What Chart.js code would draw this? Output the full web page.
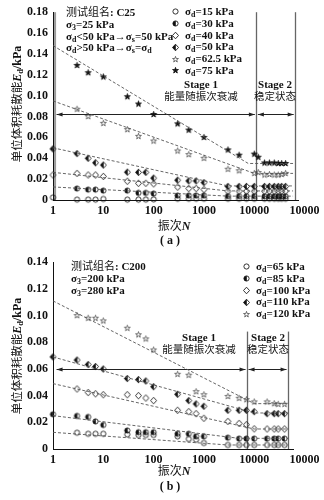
<!DOCTYPE html>
<html>
<head>
<meta charset="utf-8">
<script src="https://cdn.jsdelivr.net/npm/chart.js@4.4.0/dist/chart.umd.min.js"></script>
<style>
body{margin:0;background:#fff;}
#wrap{position:relative;width:324px;height:500px;overflow:hidden;font-family:'Liberation Serif','Noto Sans CJK SC',serif;color:#111;}
#wrap canvas.ch{position:absolute;left:0;}
.t{position:absolute;white-space:nowrap;font-size:11px;font-weight:bold;line-height:11.8px;}
.c{font-family:'Noto Sans CJK SC';font-weight:normal;}
.t sub{font-size:8px;vertical-align:-2px;line-height:0;}
.leg div{height:11.8px;display:flex;align-items:center;}
.leg canvas{margin-right:5px;}
.ytitle{position:absolute;white-space:nowrap;font-size:12px;font-weight:bold;transform:translate(-50%,-50%) rotate(-90deg);}
.ytitle .c{font-size:11.5px;}
.ytitle sub{font-size:8.5px;vertical-align:-2px;line-height:0;}
.mid{transform:translate(-50%,-50%);}
</style>
</head>
<body>
<div id="wrap">
  <canvas id="chartA" class="ch" width="324" height="250" style="top:0"></canvas>
  <canvas id="chartB" class="ch" width="324" height="250" style="top:250px"></canvas>

  <div class="ytitle" style="left:16px;top:104px"><span class="c">单位体积耗散能</span><i>E</i><sub>d</sub>/kPa</div>
  <div class="ytitle" style="left:16px;top:356px"><span class="c">单位体积耗散能</span><i>E</i><sub>d</sub>/kPa</div>

  <div class="t" style="left:66px;top:6px">
    <div><span class="c">测试组名</span>: C25</div>
    <div>σ<sub>3</sub>=25 kPa</div>
    <div>σ<sub>d</sub>&lt;50 kPa→σ<sub>s</sub>=50 kPa</div>
    <div>σ<sub>d</sub>&gt;50 kPa→σ<sub>s</sub>=σ<sub>d</sub></div>
  </div>
  <div class="t" style="left:71px;top:259px;line-height:12px">
    <div><span class="c">测试组名</span>: C200</div>
    <div>σ<sub>3</sub>=200 kPa</div>
    <div>σ<sub>3</sub>=280 kPa</div>
  </div>

  <div class="t leg" id="legA" style="left:171px;top:6px"></div>
  <div class="t leg" id="legB" style="left:242px;top:261px"></div>

  <div class="t mid" style="left:201px;top:90px;text-align:center;line-height:12px">Stage 1<br><span class="c" style="font-size:10.5px">能量随振次衰减</span></div>
  <div class="t mid" style="left:275px;top:90px;text-align:center;line-height:12px">Stage 2<br><span class="c" style="font-size:10.5px">稳定状态</span></div>
  <div class="t mid" style="left:199px;top:343px;text-align:center;line-height:12px">Stage 1<br><span class="c" style="font-size:10.5px">能量随振次衰减</span></div>
  <div class="t mid" style="left:268px;top:343px;text-align:center;line-height:12px">Stage 2<br><span class="c" style="font-size:10.5px">稳定状态</span></div>

  <div class="t mid" style="left:174px;top:226px;font-size:12px"><span class="c">振次</span><i>N</i></div>
  <div class="t mid" style="left:174px;top:471px;font-size:12px"><span class="c">振次</span><i>N</i></div>
  <div class="t mid" style="left:170px;top:241px;font-size:12px">( a )</div>
  <div class="t mid" style="left:170px;top:487px;font-size:12px">( b )</div>
</div>

<script>
// ---- data (a) C25 ----
const nA = [1, 3, 5, 7, 10, 30, 50, 70, 100, 300, 500, 700, 1000, 3000, 5000, 7000, 10000, 12000, 16000, 20000, 25000, 30000, 35000, 42000];
const eA15 = [0.0025, 0.0004, 0.0004, 0.0004, 0.001, 0.0004, 0.0004, 0.0004, 0.0006, 0.0012, 0.0012, 0.0012, 0.0012, 0.0012, 0.0012, 0.0012, 0.0012, null, 0.0012, 0.0012, 0.0012, 0.0012, 0.0012, 0.0012];
const eA30 = [null, 0.011, 0.010, 0.010, 0.009, 0.009, 0.0068, 0.0068, 0.0062, 0.0043, 0.0043, 0.0043, 0.0043, 0.0037, 0.0037, 0.0037, 0.0037, null, 0.0035, 0.0035, 0.0035, 0.0035, 0.0035, 0.0035];
const eA40 = [0.024, 0.0255, 0.024, 0.024, 0.0226, 0.018, 0.016, 0.016, 0.0155, 0.0124, 0.011, 0.011, 0.010, 0.0084, 0.0084, 0.0084, 0.0084, null, 0.0085, 0.0085, 0.0085, 0.0085, 0.0085, 0.0085];
const eA50 = [0.049, 0.0445, 0.040, 0.0357, 0.0335, 0.0267, 0.0265, 0.0265, 0.021, 0.019, 0.0183, 0.0183, 0.0167, 0.013, 0.013, 0.013, 0.013, null, 0.013, 0.013, 0.013, 0.013, 0.013, 0.013];
const eA62 = [null, 0.087, 0.080, null, 0.0735, 0.0675, 0.061, null, 0.0565, 0.047, 0.0435, null, 0.040, 0.0295, 0.028, null, 0.0255, 0.0263, 0.024, 0.0245, 0.024, 0.024, 0.0245, 0.0255];
const eA75 = [null, 0.129, 0.122, null, 0.118, 0.099, 0.092, null, 0.082, 0.073, 0.067, null, 0.060, 0.048, 0.043, null, 0.044, 0.041, 0.0355, 0.0355, 0.0355, 0.035, 0.035, 0.035];
const legendA = ['15', '30', '40', '50', '62.5', '75'];
// dashed fits: [N, E]
const fitA30 = [[1, 0.0125], [3000, 0.0037], [59000, 0.0037]];
const fitA40 = [[1, 0.0265], [3000, 0.0087], [59000, 0.0087]];
const fitA50 = [[1, 0.050], [3000, 0.0135], [59000, 0.0135]];
const fitA62 = [[1, 0.095], [10000, 0.0255], [59000, 0.0255]];
const fitA75 = [[1, 0.148], [7600, 0.035], [59000, 0.035]];
const yTicksA = ['0', '0.02', '0.04', '0.06', '0.08', '0.10', '0.12', '0.14', '0.16', '0.18'];

// ---- data (b) C200 ----
const nB = [1, 3, 5, 7, 10, 30, 50, 70, 100, 300, 500, 700, 1000, 3000, 5000, 7000, 10000, 18000, 25000, 30000, 40000];
const eB65 = [null, 0.0122, 0.0114, 0.0114, 0.0114, 0.011, 0.0105, 0.0105, 0.0105, 0.0095, 0.0075, 0.007, 0.0045, 0.003, 0.003, 0.003, 0.003, 0.003, 0.003, 0.003, 0.003];
const eB85 = [0.026, 0.0248, 0.024, 0.0207, 0.018, 0.0139, 0.0126, 0.0126, 0.0126, 0.0114, 0.0114, 0.0095, 0.0095, 0.0085, 0.0078, 0.0078, 0.0078, 0.0078, 0.0078, 0.0078, 0.0078];
const eB100 = [null, 0.045, 0.0423, 0.0414, 0.0407, 0.0407, 0.040, 0.0382, 0.0363, 0.029, 0.028, 0.0265, 0.023, 0.0207, 0.0192, 0.0182, 0.0151, 0.015, 0.015, 0.015, 0.015];
const eB110 = [0.069, 0.0667, 0.0633, 0.0618, 0.060, 0.0528, 0.052, 0.051, 0.0467, 0.041, 0.0363, 0.0338, 0.032, 0.029, 0.029, 0.029, 0.028, 0.0265, 0.0265, 0.0265, 0.0265];
const eB120 = [null, 0.100, 0.098, 0.098, 0.096, 0.0905, 0.0856, 0.0825, 0.0742, 0.056, 0.0553, 0.043, 0.0407, 0.0394, 0.038, 0.037, 0.0353, 0.0353, 0.034, 0.0335, 0.0335];
const legendB = ['65', '85', '100', '110', '120'];
const fitB65 = [[1, 0.0125], [3000, 0.003], [47000, 0.003]];
const fitB85 = [[1, 0.025], [5000, 0.008], [47000, 0.008]];
const fitB100 = [[1, 0.049], [10000, 0.015], [47000, 0.015]];
const fitB110 = [[1, 0.069], [10000, 0.027], [47000, 0.027]];
const fitB120 = [[1, 0.111], [10000, 0.034], [47000, 0.034]];
const yTicksB = ['0', '0.02', '0.04', '0.06', '0.08', '0.10', '0.12', '0.14'];

const xTickVals = [1, 10, 100, 1000, 10000, 100000];
const xTickLabels = ['1', '10', '100', '1000', '10000', '10000'];

// marker glyphs
function marker(kind) {
  const c = document.createElement('canvas');
  c.width = 9; c.height = 9;
  const g = c.getContext('2d');
  g.translate(4.5, 4.5);
  g.strokeStyle = '#111'; g.fillStyle = '#111'; g.lineWidth = 0.85;
  const path = () => {
    g.beginPath();
    if (kind.includes('circle')) g.arc(0, 0, 2.6, 0, Math.PI * 2);
    else if (kind.includes('diamond')) { g.moveTo(0, -3.3); g.lineTo(3, 0); g.lineTo(0, 3.3); g.lineTo(-3, 0); g.closePath(); }
    else {
      for (let i = 0; i < 10; i++) {
        const r = i % 2 ? 1.2 : 3.1, a = -Math.PI / 2 + i * Math.PI / 5;
        g.lineTo(r * Math.cos(a), r * Math.sin(a));
      }
      g.closePath();
    }
  };
  path();
  if (kind.startsWith('fill')) g.fill();
  if (kind.startsWith('half')) {
    g.save(); g.clip(); g.fillRect(-5, -5, 5.3, 10); g.restore();
  }
  if (kind === 'star') { g.strokeStyle = '#444'; g.lineWidth = 0.75; }
  path(); g.stroke();
  return c;
}

function scatterSets(n, series, kinds) {
  return series.map((e, k) => ({
    type: 'scatter',
    data: n.map((v, i) => ({x: v, y: e[i]})).filter(p => p.y !== null),
    pointStyle: marker(kinds[k]),
    pointRadius: 4,
    pointHoverRadius: 4,
    clip: 10
  }));
}

function fitSets(fits) {
  return fits.map(f => ({
    type: 'line',
    data: f.map(p => ({x: p[0], y: p[1]})),
    borderColor: '#555',
    borderWidth: 0.9,
    borderDash: [3, 2],
    pointRadius: 0,
    fill: false,
    tension: 0
  }));
}

function legend(id, labels, kinds) {
  const box = document.getElementById(id);
  labels.forEach((l, i) => {
    const row = document.createElement('div');
    row.appendChild(marker(kinds[i]));
    const s = document.createElement('span');
    s.innerHTML = 'σ<sub>d</sub>=' + l + ' kPa';
    row.appendChild(s);
    box.appendChild(row);
  });
}

// stage boundaries and arrows
const stagePlugin = {
  id: 'stage',
  beforeDatasetsDraw(chart, args, o) {
    const {ctx, scales: {x, y}} = chart;
    const y0 = y.getPixelForValue(0), yt = y.getPixelForValue(o.top);
    ctx.save();
    if (o.edge) {
      ctx.strokeStyle = '#999'; ctx.lineWidth = 2;
      ctx.beginPath(); ctx.moveTo(x.getPixelForValue(o.start), y.top); ctx.lineTo(x.getPixelForValue(o.start), y0); ctx.stroke();
    }
    ctx.strokeStyle = '#666'; ctx.lineWidth = 1.3;
    o.bounds.forEach(b => {
      const px = Math.round(x.getPixelForValue(b)) + 0.5;
      ctx.beginPath(); ctx.moveTo(px, yt); ctx.lineTo(px, y0); ctx.stroke();
    });
    const ay = Math.round(y.getPixelForValue(o.arrowY)) + 0.5;
    const stops = [o.start, ...o.bounds].map(v => x.getPixelForValue(v));
    ctx.strokeStyle = '#222'; ctx.fillStyle = '#222'; ctx.lineWidth = 1;
    for (let i = 0; i < stops.length - 1; i++) {
      const a = stops[i] + 1.5, b = stops[i + 1] - 1.5;
      ctx.beginPath(); ctx.moveTo(a, ay); ctx.lineTo(b, ay); ctx.stroke();
      ctx.beginPath(); ctx.moveTo(a, ay); ctx.lineTo(a + 6, ay - 2); ctx.lineTo(a + 6, ay + 2); ctx.closePath(); ctx.fill();
      ctx.beginPath(); ctx.moveTo(b, ay); ctx.lineTo(b - 6, ay - 2); ctx.lineTo(b - 6, ay + 2); ctx.closePath(); ctx.fill();
    }
    ctx.restore();
  }
};

const tickFont = {family: 'Liberation Serif', size: 12, weight: 'bold'};

function makeChart(id, datasets, yTicks, xMax, padRight, xAxisH, stage) {
  const yVals = yTicks.map(parseFloat);
  return new Chart(document.getElementById(id), {
    data: {datasets: datasets},
    options: {
      responsive: false,
      animation: false,
      layout: {padding: {top: 7, right: padRight, left: 0, bottom: 0}},
      plugins: {legend: {display: false}, tooltip: {enabled: false}, stage: stage},
      scales: {
        x: {
          type: 'logarithmic', min: 1, max: xMax,
          grid: {display: false, drawTicks: false},
          border: {display: true, color: '#111', width: 1},
          afterBuildTicks: ax => { ax.ticks = xTickVals.map(v => ({value: v})); },
          afterFit: ax => { ax.height = xAxisH; },
          ticks: {autoSkip: false, maxRotation: 0, padding: 4, color: '#111', font: tickFont,
                  callback: (v, i) => xTickLabels[i]}
        },
        y: {
          type: 'linear', min: 0, max: yVals[yVals.length - 1],
          grid: {display: false, drawTicks: false},
          border: {display: true, color: '#111', width: 1},
          afterBuildTicks: ax => { ax.ticks = yVals.map(v => ({value: v})); },
          afterFit: ax => { ax.width = 53; },
          ticks: {autoSkip: false, padding: 5, color: '#111', font: tickFont,
                  callback: (v, i) => yTicks[i]}
        }
      }
    },
    plugins: [stagePlugin]
  });
}

const kindsA = ['circle', 'halfcircle', 'diamond', 'halfdiamond', 'star', 'fillstar'];
const kindsB = ['circle', 'halfcircle', 'diamond', 'halfdiamond', 'star'];

makeChart('chartA',
  fitSets([fitA30, fitA40, fitA50, fitA62, fitA75])
    .concat(scatterSets(nA, [eA15, eA30, eA40, eA50, eA62, eA75], kindsA)),
  yTicksA, 74000, 26, 50,
  {start: 1.1, bounds: [11000, 65000], top: 0.18, arrowY: 0.0825, edge: true});

makeChart('chartB',
  fitSets([fitB65, fitB85, fitB100, fitB110, fitB120])
    .concat(scatterSets(nB, [eB65, eB85, eB100, eB110, eB120], kindsB)),
  yTicksB, 59000, 31, 51,
  {start: 1.1, bounds: [7200, 47000], top: 0.088, arrowY: 0.06, edge: false});

legend('legA', legendA, kindsA);
legend('legB', legendB, kindsB);
</script>
</body>
</html>
